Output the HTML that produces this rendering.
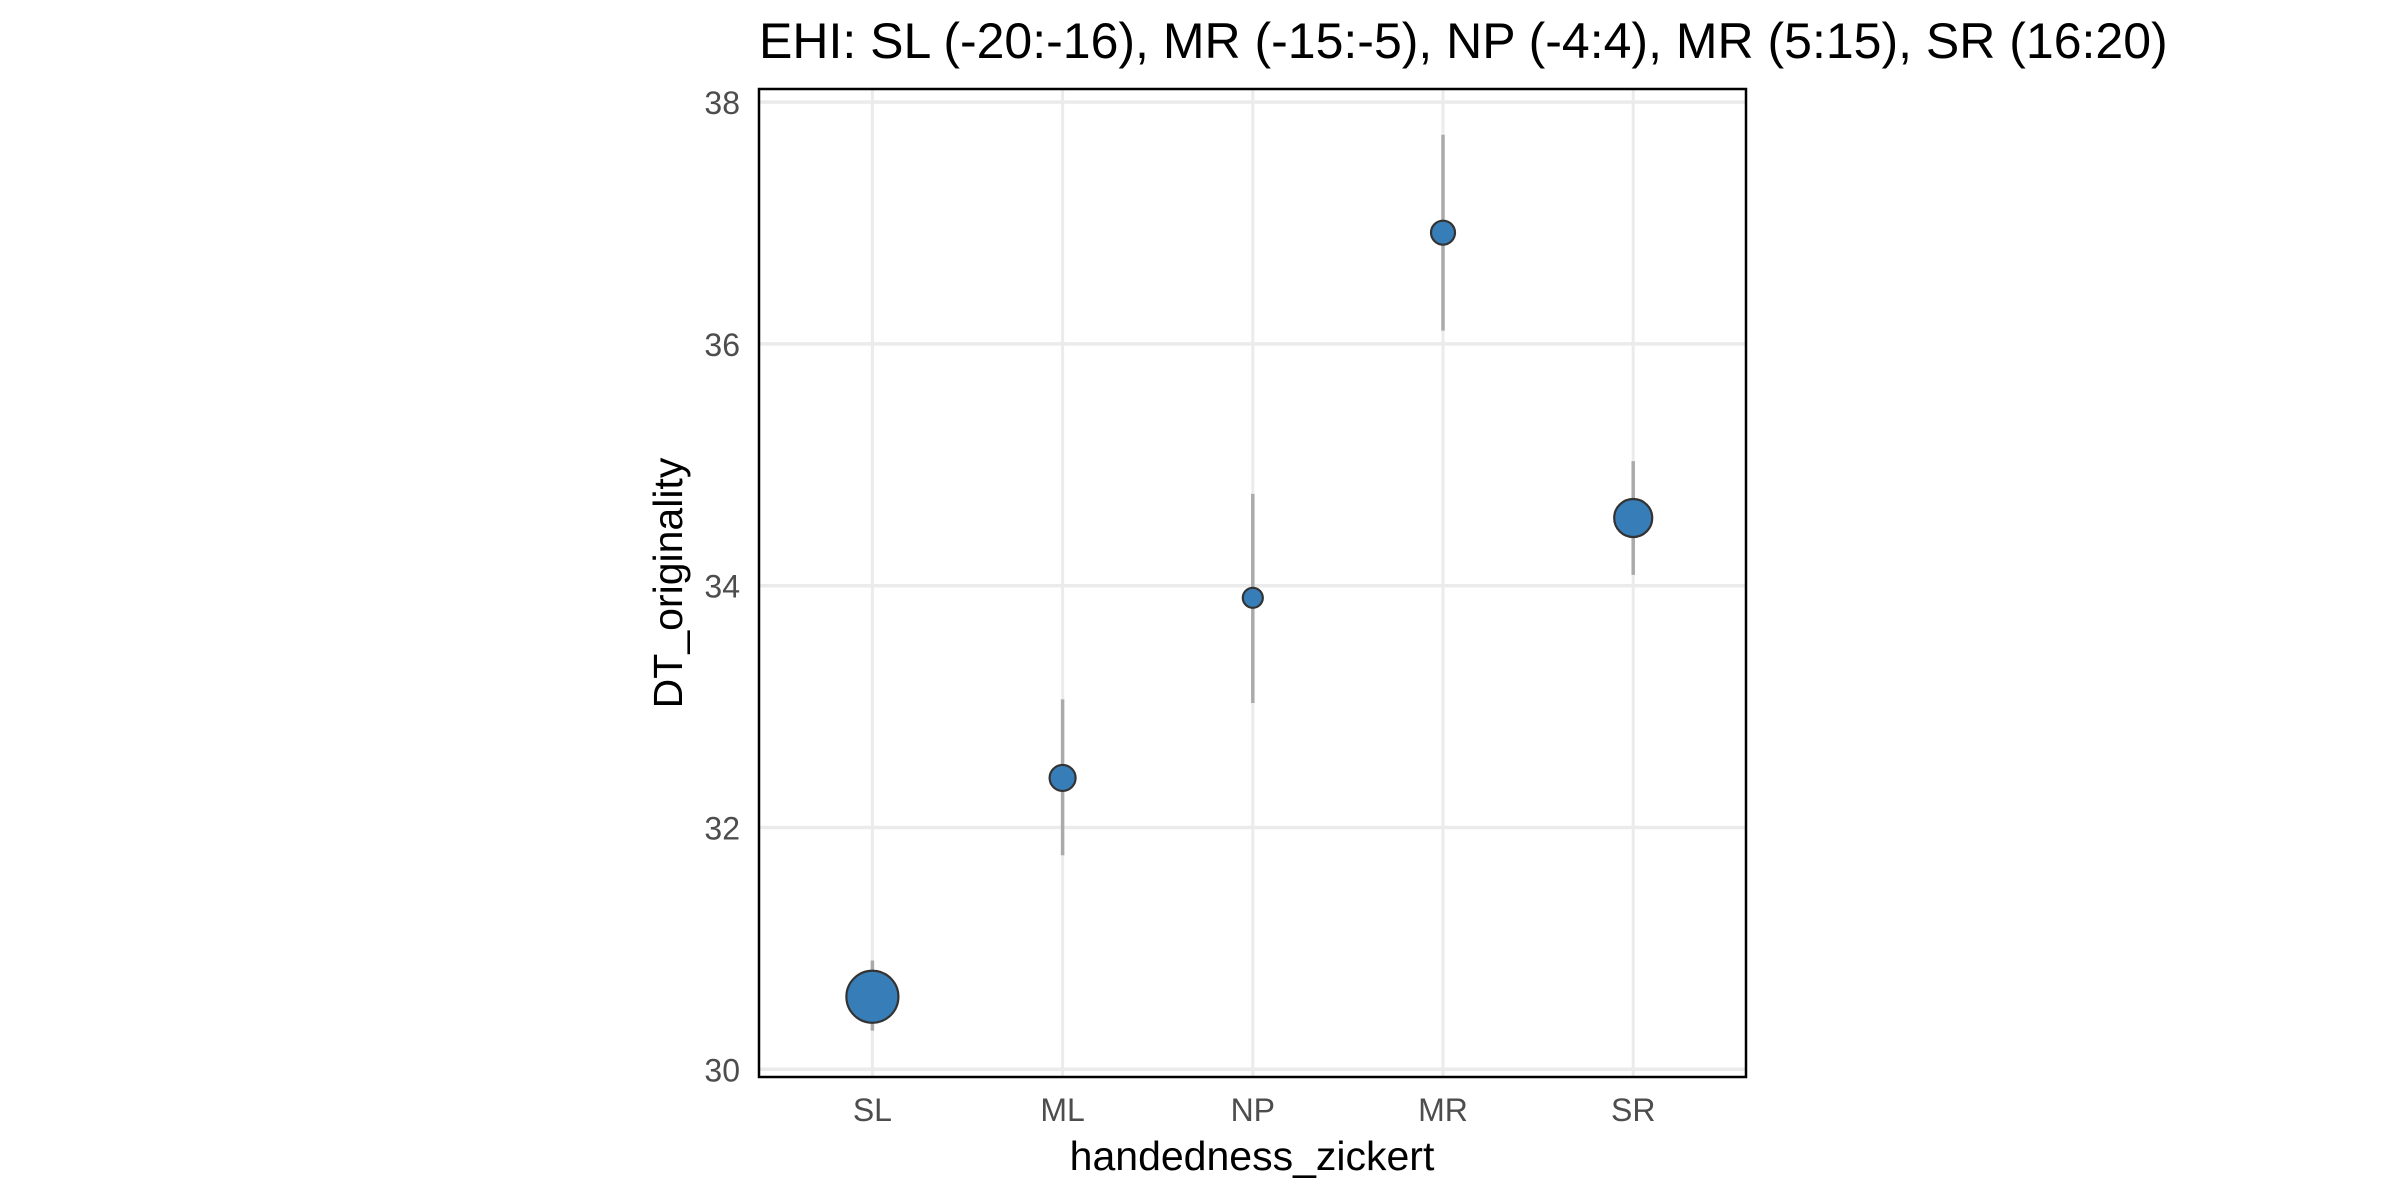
<!DOCTYPE html>
<html><head><meta charset="utf-8"><style>
html,body{margin:0;padding:0;background:#fff;}
svg{display:block;font-family:"Liberation Sans",sans-serif;}
</style></head><body>
<svg id="chart" width="2400" height="1200" viewBox="0 0 2400 1200" xmlns="http://www.w3.org/2000/svg">
<rect x="0" y="0" width="2400" height="1200" fill="#fff"/>
<text x="759" y="58" font-size="50" fill="#000">EHI: SL (-20:-16), MR (-15:-5), NP (-4:4), MR (5:15), SR (16:20)</text>
<g id="grid"></g>
<g id="marks"></g>
<rect x="759" y="89" width="987" height="988" fill="none" stroke="#000" stroke-width="2.5"/>
<g id="axes"></g>
<text x="1252" y="1170" font-size="41" text-anchor="middle" fill="#000">handedness_zickert</text>
<text x="0" y="0" font-size="41" text-anchor="middle" fill="#000" transform="translate(682,583) rotate(-90)">DT_originality</text>
</svg>
<script>
const categories = ["SL","ML","NP","MR","SR"];
const means = [30.6, 32.41, 33.9, 36.92, 34.56];
const lower = [30.32, 31.77, 33.03, 36.11, 34.09];
const upper = [30.9, 33.06, 34.76, 37.73, 35.03];
const sizes = [26, 13, 10, 12, 19];
const yTicks = [30, 32, 34, 36, 38];

const NS = "http://www.w3.org/2000/svg";
const px0 = 759, px1 = 1746;
function xScale(i){ return 872.4 + i * 190.2; }
function yScale(v){ return 1069.3 - (v - 30) * 120.9; }
function mk(tag, attrs, parent){
  const e = document.createElementNS(NS, tag);
  for (const k in attrs) e.setAttribute(k, attrs[k]);
  parent.appendChild(e);
  return e;
}
const grid = document.getElementById('grid');
const marks = document.getElementById('marks');
const axes = document.getElementById('axes');

yTicks.forEach(t => {
  const l = mk('line', {x1:px0, x2:px1, y1:yScale(t), y2:yScale(t), stroke:'#ebebeb', 'stroke-width':3.5}, grid);
  
  
  const tx = mk('text', {x:740, y:yScale(t)+12, 'font-size':32, 'text-anchor':'end', fill:'#4d4d4d'}, axes);
  tx.textContent = t;
  
  
});
categories.forEach((c, i) => {
  const l = mk('line', {x1:xScale(i), x2:xScale(i), y1:89, y2:1077, stroke:'#ebebeb', 'stroke-width':3}, grid);
  
  
  const tx = mk('text', {x:xScale(i), y:1121, 'font-size':32, 'text-anchor':'middle', fill:'#4d4d4d'}, axes);
  tx.textContent = c;
  
  
});
categories.forEach((c, i) => {
  const eb = mk('line', {x1:xScale(i), x2:xScale(i), y1:yScale(lower[i]), y2:yScale(upper[i]), stroke:'#aaaaaa', 'stroke-width':3.5}, marks);
  
  
  const p = mk('circle', {cx:xScale(i), cy:yScale(means[i]), r:sizes[i], fill:'#377eb8', stroke:'#333333', 'stroke-width':2.2}, marks);
  
  
});
</script>
</body></html>
